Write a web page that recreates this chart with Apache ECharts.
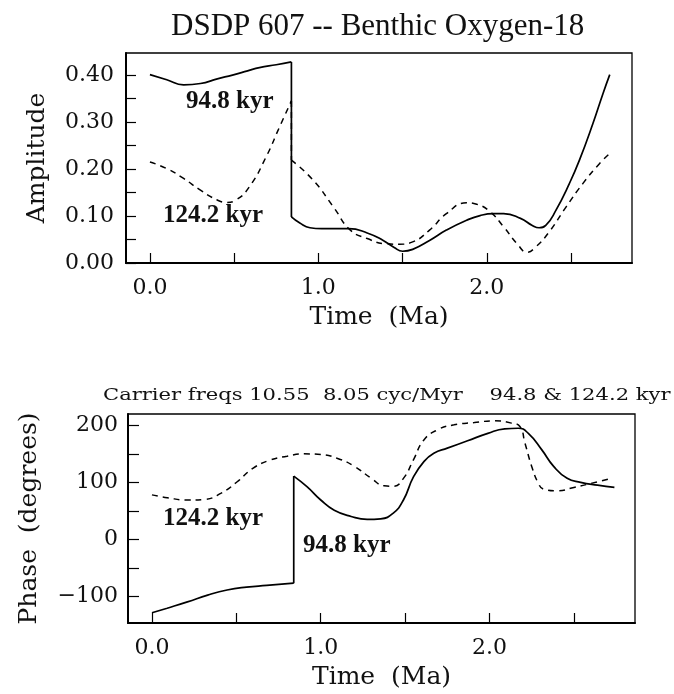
<!DOCTYPE html>
<html><head><meta charset="utf-8">
<script src="https://cdn.jsdelivr.net/npm/echarts@6/dist/echarts.min.js"></script>
<style>html,body{margin:0;padding:0;background:#fff}#c{width:674px;height:694px}</style>
</head><body><div id="c"></div>
<script>
// ---- data ----
const ampT948 = [0, 0.1, 0.2, 0.3, 0.4, 0.49, 0.58, 0.65, 0.75, 0.84, 0.84, 0.89, 0.95, 1.02, 1.09, 1.18, 1.29, 1.385, 1.45, 1.50, 1.56, 1.66, 1.76, 1.88, 1.96, 2.04, 2.10, 2.20, 2.27, 2.31, 2.35, 2.41, 2.49, 2.55, 2.63, 2.69, 2.73];
const ampV948 = [0.401, 0.390, 0.379, 0.382, 0.392, 0.400, 0.409, 0.416, 0.422, 0.428, 0.098, 0.085, 0.075, 0.073, 0.073, 0.073, 0.064, 0.048, 0.033, 0.025, 0.029, 0.048, 0.070, 0.091, 0.101, 0.105, 0.105, 0.095, 0.080, 0.075, 0.080, 0.112, 0.169, 0.219, 0.297, 0.361, 0.401];
const ampT1242 = [0, 0.1, 0.2, 0.3, 0.4, 0.455, 0.51, 0.59, 0.69, 0.77, 0.84, 0.84, 0.97, 1.09, 1.19, 1.29, 1.40, 1.48, 1.56, 1.66, 1.76, 1.88, 1.94, 2.02, 2.10, 2.18, 2.24, 2.29, 2.37, 2.47, 2.57, 2.67, 2.73];
const ampV1242 = [0.215, 0.201, 0.180, 0.155, 0.134, 0.129, 0.134, 0.162, 0.226, 0.290, 0.345, 0.219, 0.176, 0.119, 0.070, 0.052, 0.041, 0.040, 0.045, 0.070, 0.105, 0.128, 0.125, 0.109, 0.077, 0.041, 0.023, 0.034, 0.066, 0.119, 0.169, 0.212, 0.233];
const phT948 = [0, 0.09, 0.21, 0.33, 0.445, 0.56, 0.68, 0.84, 0.84, 0.92, 1.0, 1.08, 1.18, 1.275, 1.355, 1.43, 1.49, 1.55, 1.61, 1.67, 1.75, 1.87, 1.99, 2.09, 2.17, 2.23, 2.31, 2.38, 2.46, 2.54, 2.64, 2.74];
const phV948 = [-129, -121, -110, -98, -89, -84, -81, -77, 111, 92, 69, 51, 40, 35, 36, 46, 69, 110, 136, 151, 160, 173, 186, 194, 195, 186, 157, 128, 107, 100, 95, 91];
const phT1242 = [0, 0.09, 0.21, 0.31, 0.41, 0.505, 0.60, 0.70, 0.80, 0.90, 1.0, 1.10, 1.20, 1.30, 1.375, 1.43, 1.49, 1.55, 1.61, 1.69, 1.79, 1.91, 2.03, 2.13, 2.18, 2.21, 2.25, 2.29, 2.32, 2.40, 2.50, 2.60, 2.72];
const phV1242 = [78, 73, 69, 70, 81, 101, 125, 139, 146, 150, 149, 142, 128, 107, 94, 93, 107, 140, 174, 192, 201, 205, 208, 204, 198, 169, 128, 98, 88, 85, 91, 98, 107];

const timeTicks = [0, 0.5, 1.0, 1.5, 2.0, 2.5];
const timeLabels = [0, 1.0, 2.0];
const ampTicks = [0, 0.05, 0.10, 0.15, 0.20, 0.25, 0.30, 0.35, 0.40];
const ampLabels = [0, 0.10, 0.20, 0.30, 0.40];
const phTicks = [-100, -50, 0, 50, 100, 150, 200];
const phLabels = [-100, 0, 100, 200];

const titleText = 'DSDP 607 -- Benthic Oxygen-18';
const carrierText = 'Carrier freqs 10.55  8.05 cyc/Myr    94.8 & 124.2 kyr';
const lab948 = '94.8 kyr';
const lab1242 = '124.2 kyr';

// split a curve at the vertical jump (two consecutive points with equal time)
function pieces(T, V) {
  const pts = T.map((t, i) => [t, V[i]]);
  let j = -1;
  for (let i = 1; i < pts.length; i++) if (pts[i][0] === pts[i - 1][0]) { j = i; break; }
  if (j < 0) return [pts];
  return [pts.slice(0, j), [pts[j - 1], pts[j]], pts.slice(j)];
}

const SERIF = '"DejaVu Serif", serif';
const TIMES = '"Liberation Serif", "Times New Roman", serif';
const tickFont = { fontFamily: SERIF, fontSize: 22, color: '#111' };

function xAx(gi) {
  return {
    type: 'value', gridIndex: gi, min: -0.142, max: 2.862,
    name: 'Time  (Ma)', nameLocation: 'middle', nameGap: 42,
    nameTextStyle: { fontFamily: SERIF, fontSize: 25, color: '#111' },
    axisLine: { show: true, onZero: false, lineStyle: { color: '#000', width: 2 } },
    axisTick: { show: true, inside: true, length: 10, customValues: timeTicks, lineStyle: { color: '#000', width: 1.2 } },
    axisLabel: { customValues: timeLabels, margin: 14, formatter: v => v.toFixed(1), ...tickFont },
    splitLine: { show: false }
  };
}

function lineSeries(name, gi, T, V, dashed) {
  return pieces(T, V).map((d, k) => ({
    name: name, type: 'line', xAxisIndex: gi, yAxisIndex: gi, data: d,
    showSymbol: false, smooth: d.length > 2 ? 0.5 : false,
    lineStyle: { color: '#000', width: dashed ? 1.5 : 1.7, type: dashed ? [6, 5] : 'solid' }
  }));
}

const option = {
  backgroundColor: '#fff',
  animation: false,
  title: [
    { text: titleText, left: 166, top: 6, textStyle: { fontFamily: TIMES, fontSize: 31, fontWeight: 'normal', color: '#111' } }
  ],
  grid: [
    { left: 126, top: 53, width: 506, height: 210, show: true, borderColor: '#000', borderWidth: 1.3, containLabel: false },
    { left: 128, top: 414, width: 507, height: 209, show: true, borderColor: '#000', borderWidth: 1.3, containLabel: false }
  ],
  xAxis: [xAx(0), xAx(1)],
  yAxis: [
    {
      type: 'value', gridIndex: 0, min: 0, max: 0.447,
      name: 'Amplitude', nameLocation: 'middle', nameGap: 76,
      nameTextStyle: { fontFamily: SERIF, fontSize: 25, color: '#111' },
      axisLine: { show: true, onZero: false, lineStyle: { color: '#000', width: 2 } },
      axisTick: { show: true, inside: true, length: 10, customValues: ampTicks, lineStyle: { color: '#000', width: 1.2 } },
      axisLabel: { customValues: ampLabels, margin: 12, formatter: v => v.toFixed(2), ...tickFont },
      splitLine: { show: false }
    },
    {
      type: 'value', gridIndex: 1, min: -147, max: 220,
      name: 'Phase  (degrees)', nameLocation: 'middle', nameGap: 86,
      nameTextStyle: { fontFamily: SERIF, fontSize: 25, color: '#111' },
      axisLine: { show: true, onZero: false, lineStyle: { color: '#000', width: 2 } },
      axisTick: { show: true, inside: true, length: 11, customValues: phTicks, lineStyle: { color: '#000', width: 1.2 } },
      axisLabel: { customValues: phLabels, margin: 10, formatter: v => (v < 0 ? '\u2212' + Math.abs(v) : String(v)), ...tickFont },
      splitLine: { show: false }
    }
  ],
  series: [].concat(
    lineSeries(lab948, 0, ampT948, ampV948, false),
    lineSeries(lab1242, 0, ampT1242, ampV1242, true),
    lineSeries(lab948, 1, phT948, phV948, false),
    lineSeries(lab1242, 1, phT1242, phV1242, true)
  ),
  graphic: [
    { type: 'text', left: 103, top: 387, scaleX: 1.24, style: { text: carrierText, font: '17px "DejaVu Serif", serif', fill: '#111' } },
    { type: 'text', left: 186, top: 89, style: { text: lab948, font: 'bold 25px "Liberation Serif", serif', fill: '#111' } },
    { type: 'text', left: 163, top: 203, style: { text: lab1242, font: 'bold 25px "Liberation Serif", serif', fill: '#111' } },
    { type: 'text', left: 163, top: 506, style: { text: lab1242, font: 'bold 25px "Liberation Serif", serif', fill: '#111' } },
    { type: 'text', left: 303, top: 533, style: { text: lab948, font: 'bold 25px "Liberation Serif", serif', fill: '#111' } }
  ]
};

const chart = echarts.init(document.getElementById('c'), null, { renderer: 'canvas' });
chart.setOption(option);
</script>
</body></html>
